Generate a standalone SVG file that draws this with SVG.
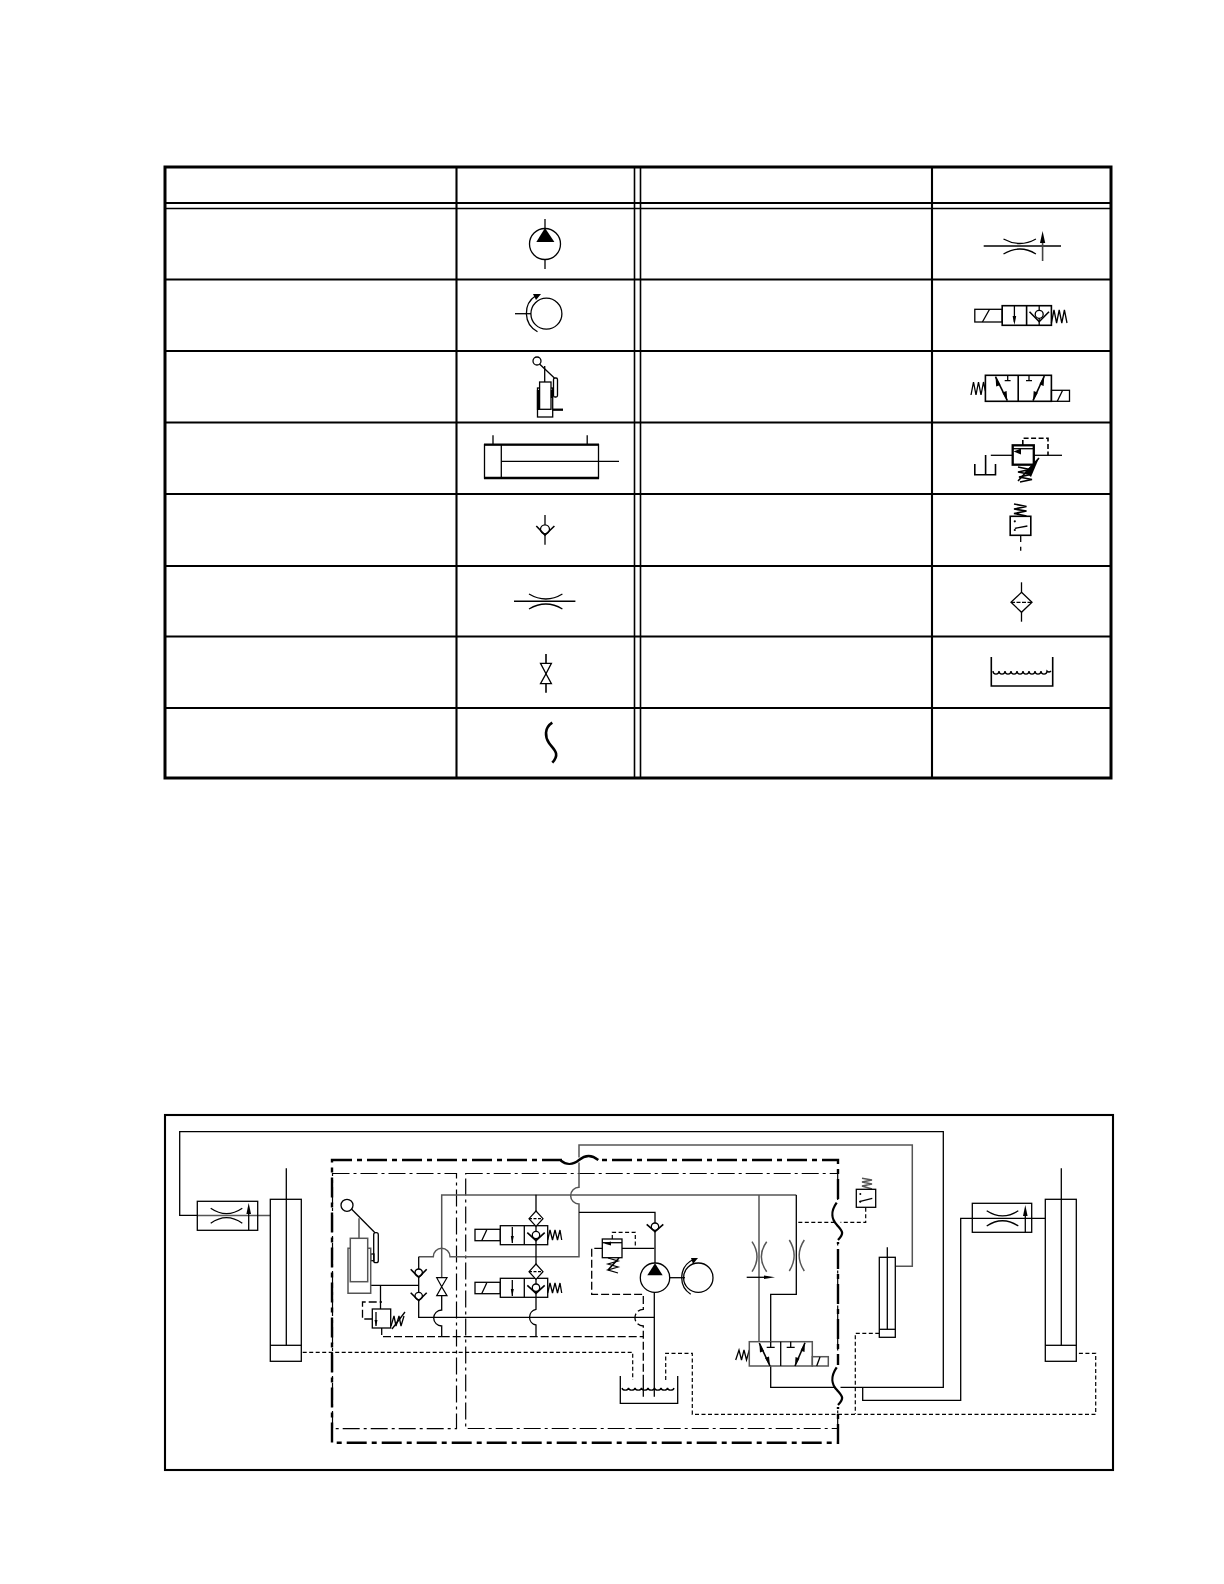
<svg xmlns="http://www.w3.org/2000/svg" width="1224" height="1584" viewBox="0 0 1224 1584">
<style>
path,line,rect,circle,ellipse,polyline{fill:none;stroke:#000;stroke-width:1.3}
.w{fill:#fff}
.g{stroke:#555;stroke-width:1.5}
.b{stroke-width:2.3}
.t{stroke-width:3}
.m{stroke-width:1.6}
.r{stroke-width:2.1}
.f,polygon{fill:#000;stroke:none}
.bigdd{stroke-width:2.4;stroke-dasharray:20 5 5 5}
.dd{stroke-dasharray:17 4 3 4;stroke-width:1.2}
.sd{stroke-dasharray:4 2.5;stroke-width:1.2}
.ld{stroke-dasharray:8 3}
.wh{stroke:#fff;stroke-width:5}
</style>
<rect x="0" y="0" width="1224" height="1584" style="fill:#fff;stroke:none"/>

<g id="table">
<rect class="t" x="165" y="167" width="946" height="611"/>
<line class="r" x1="456.5" y1="167" x2="456.5" y2="778"/>
<line class="m" x1="634.5" y1="167" x2="634.5" y2="778"/>
<line class="m" x1="640.5" y1="167" x2="640.5" y2="778"/>
<line class="r" x1="932" y1="167" x2="932" y2="778"/>
<line class="r" x1="165" y1="203" x2="1111" y2="203"/>
<line x1="165" y1="208.5" x2="1111" y2="208.5"/>
<line class="r" x1="165" y1="279.5" x2="1111" y2="279.5"/>
<line class="r" x1="165" y1="351" x2="1111" y2="351"/>
<line class="r" x1="165" y1="422.5" x2="1111" y2="422.5"/>
<line class="r" x1="165" y1="494" x2="1111" y2="494"/>
<line class="r" x1="165" y1="566" x2="1111" y2="566"/>
<line class="r" x1="165" y1="636.5" x2="1111" y2="636.5"/>
<line class="r" x1="165" y1="708" x2="1111" y2="708"/>
</g>

<g id="sym-pump">
<line x1="545" y1="219" x2="545" y2="269"/>
<circle class="w" cx="545" cy="244" r="15.5"/>
<polygon points="545,228 536.3,242 554.4,242"/>
</g>
<g id="sym-motor">
<circle cx="546.4" cy="313.7" r="15.5"/>
<line x1="515" y1="313.7" x2="531" y2="313.7"/>
<path d="M537.5 331.7A21 21 0 0 1 536 295.5"/>
<polygon points="533,294 541,294 536,300"/>
</g>
<g id="sym-lever">
<circle cx="537" cy="361" r="4"/>
<path d="M539.5 364L554.4 378"/>
<rect x="553.5" y="378" width="4" height="19" rx="1.5"/>
<line x1="544.7" y1="366" x2="544.7" y2="382"/>
<rect x="537.5" y="388" width="15.2" height="29"/>
<rect class="w" x="539.6" y="382" width="11.4" height="27.3"/>
<line class="b" x1="552.7" y1="409.7" x2="563" y2="409.7"/>
<line class="b" x1="552" y1="390" x2="552" y2="398"/>
<line class="b" x1="538" y1="390" x2="538" y2="410"/>
</g>
<g id="sym-cylinder">
<rect x="484.5" y="444.7" width="114" height="33.3"/>
<line class="b" x1="484" y1="444.7" x2="599" y2="444.7"/>
<line class="b" x1="484" y1="478" x2="599" y2="478"/>
<line x1="501.3" y1="444.7" x2="501.3" y2="478"/>
<line x1="501.3" y1="461.3" x2="619" y2="461.3"/>
<line x1="493" y1="435.3" x2="493" y2="444.7"/>
<line x1="587.2" y1="435.3" x2="587.2" y2="444.7"/>
</g>
<g id="sym-check">
<line x1="545" y1="515" x2="545" y2="544.7"/>
<circle class="w" cx="545" cy="529.3" r="4.5"/>
<path class="m" d="M536.3 526L545 535L554.4 526"/>
</g>
<g id="sym-throttle">
<line class="m" x1="514" y1="601.3" x2="575.4" y2="601.3"/>
<path d="M529 594Q546 604 562.4 594M529 609Q546 599 562.4 609"/>
</g>
<g id="sym-needle">
<line class="m" x1="546" y1="654" x2="546" y2="692.7"/>
<polygon class="w" style="fill:#fff;stroke:#000;stroke-width:1.3" points="540.5,663.3 551.4,663.3 546,673.7 551.4,683.7 540.5,683.7 546,673.7"/>
</g>
<g id="sym-hose">
<path style="stroke-width:2.6" d="M552.3 722.7C544 728 545 737 549 743C553 749 561 753 552.3 762.7"/>
</g>
<g id="sym-throttle-adj">
<line class="m" x1="983.7" y1="246" x2="1061" y2="246"/>
<path d="M1003.5 239Q1020 248 1035.9 239M1003.5 254Q1020 244 1035.9 254"/>
<line class="m" x1="1042.6" y1="240" x2="1042.6" y2="261" style="stroke:#444"/>
<polygon points="1042.6,231 1040,243 1045.2,243"/>
</g>
<g id="sym-valve22">
<rect x="974.8" y="309.3" width="27.4" height="12.7"/>
<line x1="982.4" y1="322" x2="989.6" y2="309.3"/>
<rect class="m" x="1002.2" y="305.7" width="49.2" height="19.6"/>
<line class="m" x1="1026.6" y1="305.7" x2="1026.6" y2="325.3"/>
<line x1="1014.4" y1="306" x2="1014.4" y2="322"/>
<polygon points="1014.4,325 1012.6,316 1016.2,316"/>
<line x1="1039.2" y1="306" x2="1039.2" y2="325"/>
<circle class="w" cx="1039.2" cy="314.3" r="4"/>
<path class="m" d="M1029.5 311.7L1039.2 321.7L1049 311.7"/>
<path d="M1051.4 323L1054 310L1056.6 323L1059.2 310L1061.8 323L1064.4 310L1067 323"/>
</g>
<g id="sym-valve42">
<path d="M971 395L973.5 382L976 395L978.5 382L981 395L983.5 382L985.4 391"/>
<rect class="m" x="985.4" y="375.3" width="66" height="26"/>
<line class="m" x1="1018.2" y1="375.3" x2="1018.2" y2="401.3"/>
<rect x="1051.4" y="390.3" width="18.1" height="11"/>
<line x1="1057.3" y1="401.3" x2="1062.4" y2="390.7"/>
<line class="m" x1="995.5" y1="376.7" x2="1007.3" y2="400.7"/>
<polygon points="995.5,376.7 1000.5,385 996.2,386.5"/>
<polygon points="1007.3,400.7 1002.3,392.5 1006.6,391"/>
<line class="m" x1="1044.3" y1="376" x2="1033" y2="400.7"/>
<polygon points="1044.3,376 1043.6,386 1039.4,384.3"/>
<polygon points="1033,400.7 1033.7,391 1037.9,392.7"/>
<path d="M1007.7 376V380.7M1004.7 380.7H1010.6M1029 376V380.7M1026 380.7H1032"/>
</g>
<g id="sym-relief">
<path class="m" d="M974.8 464V474.7H995.5V464M985.6 455V474.7"/>
<line x1="990.8" y1="455.3" x2="1012.7" y2="455.3"/>
<line x1="1033.8" y1="455.3" x2="1062" y2="455.3"/>
<rect class="b" x="1012.7" y="445.3" width="21.1" height="19.4"/>
<line x1="1012.7" y1="448.7" x2="1033.8" y2="448.7"/>
<polygon points="1013.5,451.5 1021,448.5 1021,454.5"/>
<path class="m" d="M1022.8 445V438.3H1048V455.3" style="stroke-dasharray:5 2.5"/>
<path class="m" d="M1018 467L1030 469.5L1018 472L1031 474.5L1019 477L1032 479.5L1020 482"/>
<path class="m" d="M1018 481L1039 458"/>
<polygon points="1039,458 1025,472 1031,477"/>
</g>
<g id="sym-switch">
<path class="m" d="M1014 504L1026.5 506.5L1014 509L1026.5 511L1014 513.5L1026.5 516"/>
<rect class="m" x="1010.2" y="516.3" width="20.6" height="19"/>
<circle class="f" cx="1014.8" cy="521.3" r="1.1"/>
<circle class="f" cx="1014.8" cy="530" r="1.1"/>
<line x1="1014.8" y1="528.3" x2="1027.4" y2="526"/>
<line x1="1020.7" y1="535" x2="1020.7" y2="542"/>
<line x1="1020.7" y1="546.7" x2="1020.7" y2="550.7"/>
</g>
<g id="sym-filter">
<line x1="1021.5" y1="582.3" x2="1021.5" y2="621.7"/>
<polygon class="w" style="fill:#fff;stroke:#000;stroke-width:1.3" points="1021.5,592.3 1032,602.3 1021.5,612.3 1011,602.3"/>
<line x1="1011" y1="602.3" x2="1032" y2="602.3" style="stroke-dasharray:4 1.5"/>
</g>
<g id="sym-tank">
<path class="m" d="M991.3 657V686H1052.7V657"/>
<path d="M993 671A2.9 3 0 0 0 999 671A2.9 3 0 0 0 1005 671A2.9 3 0 0 0 1011 671A2.9 3 0 0 0 1017 671A2.9 3 0 0 0 1023 671A2.9 3 0 0 0 1029 671A2.9 3 0 0 0 1035 671A2.9 3 0 0 0 1041 671A2.9 3 0 0 0 1047 671A2.9 3 0 0 0 1051 671"/>
</g>

<g id="frame">
<rect class="r" x="165" y="1115" width="948" height="355"/>
</g>

<g id="housings">
<rect class="bigdd" x="332" y="1160" width="506" height="282.7"/>
<rect class="dd" x="332.5" y="1173.5" width="124" height="255.2"/>
<rect class="dd" x="465.7" y="1173.5" width="372" height="255"/>
</g>

<g id="connectors">
<path d="M197 1215.4H179.7V1131.7H943.3V1387.3H770.7V1366"/>
<line class="g" x1="197" y1="1215.4" x2="270.3" y2="1215.4"/>
<path class="g" d="M418.7 1256.7H433.3A8.3 8.3 0 0 1 450 1256.7H579V1204A8.3 8.3 0 0 1 579 1187.3V1145H912.3V1266.3H895.7"/>
<path class="g" d="M441.7 1277V1195H796.3"/>
<path d="M796.3 1195V1294.3H770.7V1347"/>
<line class="g" x1="759" y1="1195" x2="759" y2="1341.7"/>
<path d="M370.7 1285.3H418.7M418.7 1256.7V1317.3H654.3"/>
<path d="M380.5 1285.3V1309"/>
<path class="g" d="M359 1218.3V1238.3"/>
<path d="M441.7 1296V1310A8 8 0 0 0 441.7 1326V1336.7"/>
<path class="ld" d="M381.7 1327V1336.7H441.7"/>
<path class="ld" d="M441.7 1336.7H643.3"/>
<path d="M536 1194.7V1309.3A8 8 0 0 0 536 1325V1336.7" />
<path d="M579 1212.3H655V1263"/>
<path d="M654.3 1292V1396.7"/>
<path d="M622 1248.3H654.3"/>
<path class="ld" d="M602.3 1248.3H591.7V1294.3H643.3V1309.3A8.3 8.3 0 0 0 643.3 1326V1376"/>
<line x1="643.3" y1="1376" x2="643.3" y2="1396.7"/>
<path class="sd" d="M612.3 1239V1232.3H635.3V1248.3"/>
<path class="sd" d="M302.7 1352.3H632.7V1380"/>
<path class="sd" d="M665.7 1380V1353.3H692.3V1414.3H1095.7V1353.3H1076.7"/>
<path class="sd" d="M879.3 1333.3H855.3V1414"/>
<path class="sd" d="M798.3 1222.3H865.7V1207.3"/>
<path d="M862.7 1387.3V1400.3H960.7V1218.3H1045"/>
<path d="M670 1277.7H685"/>
</g>

<g id="crossings">
<line class="wh" x1="838" y1="1200" x2="838" y2="1242"/>
<line class="wh" x1="838" y1="1365" x2="838" y2="1407"/>
<line class="wh" x1="562" y1="1160" x2="598" y2="1160"/>
<path class="b" d="M560.7 1160.5C566 1165 573 1165 579 1160C585 1155 591 1154 598.3 1160"/>
<path class="b" d="M836.7 1202.7C830 1212 832 1220 837 1225C842 1231 845 1233 838 1240"/>
<path class="b" d="M836.7 1367.3C830 1377 832 1385 837 1390C842 1396 845 1398 838 1405"/>
</g>

<g id="cylinder-left">
<rect class="w" x="270.3" y="1199.3" width="31" height="162"/>
<line x1="286.3" y1="1168.3" x2="286.3" y2="1345.3"/>
<line x1="270.3" y1="1345.3" x2="301.3" y2="1345.3"/>
</g>
<g id="throttle-left">
<rect x="197.3" y="1201.3" width="60.4" height="29"/>
<path d="M210.7 1208.3Q226.5 1219 242.3 1208.3M210.7 1223.3Q226.5 1212 242.3 1223.3"/>
<line x1="248.7" y1="1210" x2="248.7" y2="1230"/>
<polygon points="248.7,1203 246.4,1214 251,1214"/>
</g>
<g id="lever">
<circle cx="347" cy="1205.3" r="6"/>
<line x1="351.7" y1="1209.3" x2="375" y2="1232.7"/>
<rect x="373.7" y="1232.7" width="4.6" height="30" rx="2"/>
<rect x="370.7" y="1254" width="3.3" height="6.7"/>
<path class="g" d="M367.7 1248.3H370.7V1293.3H348V1248.3H350.3"/>
<rect class="g" x="350.3" y="1238.3" width="17.4" height="43.4"/>
</g>
<g id="checks-left">
<circle class="w" cx="418.7" cy="1272.7" r="3.7"/>
<path class="m" d="M410.7 1269.3L418.7 1277.3L426.7 1269.3"/>
<circle class="w" cx="418.7" cy="1296" r="3.7"/>
<path class="m" d="M410.7 1292.7L418.7 1300.7L426.7 1292.7"/>
</g>
<g id="needle-left">
<polygon style="fill:#fff;stroke:#000;stroke-width:1.2" points="436.7,1277.7 447,1277.7 441.7,1286.7 447,1295.7 436.7,1295.7 441.7,1286.7"/>
</g>
<g id="relief-left">
<path class="ld" d="M372.3 1319H362.5V1302H382"/>
<rect class="w" x="372.3" y="1309" width="18.4" height="19"/>
<line x1="376" y1="1312" x2="376" y2="1326"/>
<polygon points="376,1326 374.5,1320 377.5,1320"/>
<path d="M391 1326L394 1316L396 1326L399 1316L401 1326L404 1316"/>
<path d="M392 1329L405 1312"/>
</g>
<g id="valve-upper">
<rect x="475" y="1229.3" width="25.3" height="11.4"/>
<line x1="481.7" y1="1240.7" x2="486.7" y2="1230"/>
<rect class="w" x="500.3" y="1225.7" width="47.4" height="19"/>
<line x1="524.3" y1="1225.7" x2="524.3" y2="1244.7"/>
<line x1="512.3" y1="1227" x2="512.3" y2="1243"/>
<polygon points="512.3,1243.5 510.8,1236 513.8,1236"/>
<line x1="536" y1="1225.7" x2="536" y2="1244.7"/>
<circle class="w" cx="536" cy="1235" r="3.7"/>
<path class="m" d="M527.3 1232.7L536 1240.7L544.7 1232.7"/>
<path d="M547.7 1240L550 1230L552.5 1240L555 1230L557.5 1240L560 1230L561.7 1240"/>
<polygon style="fill:#fff;stroke:#000;stroke-width:1.2" points="536,1211 543,1218.7 536,1226.4 529,1218.7"/>
<line x1="529" y1="1218.7" x2="543" y2="1218.7" style="stroke-dasharray:3 1.5"/>
</g>
<g id="valve-lower">
<rect x="475" y="1282.3" width="25.3" height="11.4"/>
<line x1="481.7" y1="1293.7" x2="486.7" y2="1283"/>
<rect class="w" x="500.3" y="1278.3" width="47.4" height="19"/>
<line x1="524.3" y1="1278.3" x2="524.3" y2="1297.3"/>
<line x1="512.3" y1="1280" x2="512.3" y2="1296"/>
<polygon points="512.3,1296.5 510.8,1289 513.8,1289"/>
<line x1="536" y1="1278.3" x2="536" y2="1297.3"/>
<circle class="w" cx="536" cy="1287.7" r="3.7"/>
<path class="m" d="M527.3 1285.3L536 1293.3L544.7 1285.3"/>
<path d="M547.7 1293L550 1283L552.5 1293L555 1283L557.5 1293L560 1283L561.7 1293"/>
<polygon style="fill:#fff;stroke:#000;stroke-width:1.2" points="536,1264 543,1271.7 536,1279.4 529,1271.7"/>
<line x1="529" y1="1271.7" x2="543" y2="1271.7" style="stroke-dasharray:3 1.5"/>
</g>
<g id="relief-main">
<rect class="w" x="602.3" y="1239" width="19.7" height="18.7"/>
<line x1="602.3" y1="1242.7" x2="622" y2="1242.7"/>
<polygon points="604,1243.5 611,1241.5 611,1245.5"/>
<path d="M608 1258L618 1261L608 1264L618 1267L608 1270L618 1273"/>
<path class="m" d="M608 1270L619 1258"/>
</g>
<g id="pump-main">
<circle class="w" cx="655" cy="1226.7" r="3.7"/>
<path class="m" d="M646.7 1224.3L655 1231.7L663.3 1224.3"/>
<circle class="w" cx="655" cy="1277.7" r="14.7"/>
<polygon points="655,1263.3 647.3,1275.3 662.7,1275.3"/>
</g>
<g id="motor-main">
<circle cx="698.3" cy="1277.7" r="14.7"/>
<path d="M690.7 1294.3A20 20 0 0 1 693.3 1259.5"/>
<polygon points="691,1258 698,1258 693,1264"/>
</g>
<g id="tank-main">
<path d="M620.3 1376V1403.3H677.7V1376"/>
<path d="M622 1388A3.3 2.6 0 0 0 628.5 1388A3.3 2.6 0 0 0 635 1388A3.3 2.6 0 0 0 641.5 1388A3.3 2.6 0 0 0 648 1388A3.3 2.6 0 0 0 654.5 1388A3.3 2.6 0 0 0 661 1388A3.3 2.6 0 0 0 667.5 1388A3.3 2.6 0 0 0 674 1388"/>
</g>
<g id="throttles-mid">
<path class="g" d="M752 1241.7Q762 1256.7 752 1271.7M766.7 1241.7Q756 1256.7 766.7 1271.7"/>
<path class="g" d="M789.3 1240Q799 1255.5 789.3 1271M804.3 1240Q794 1255.5 804.3 1271"/>
<line x1="746.7" y1="1277.3" x2="768" y2="1277.3"/>
<polygon points="775,1277.3 764,1275.5 764,1279.1"/>
</g>
<g id="valve-main">
<path d="M735.7 1360L739 1350L741.5 1360L744 1350L746.5 1360L749.3 1350"/>
<rect class="w g" x="749.3" y="1341.7" width="63" height="24.3"/>
<line x1="780.7" y1="1341.7" x2="780.7" y2="1366"/>
<rect class="g" x="812.3" y="1356.7" width="16" height="9.3"/>
<line x1="816.7" y1="1366" x2="820" y2="1357"/>
<line class="m" x1="759.3" y1="1343" x2="770" y2="1366"/>
<polygon points="759.3,1343 764,1351 760,1352.5"/>
<polygon points="770,1366 765,1358 769,1356.5"/>
<path d="M770.7 1341.7V1347.3M766.7 1347.3H774.7M790.7 1341.7V1347.3M786.7 1347.3H794.7"/>
<line class="m" x1="805" y1="1342.7" x2="795" y2="1366"/>
<polygon points="805,1342.7 804.5,1352 800.5,1350.5"/>
<polygon points="795,1366 795.5,1357 799.5,1358.5"/>
</g>
<g id="switch-main">
<path class="g" d="M862 1178.3L872 1180L862 1182L872 1184L862 1186L872 1189"/>
<rect x="856.3" y="1189.3" width="19.4" height="18"/>
<circle class="f" cx="860.3" cy="1194" r="1"/>
<circle class="f" cx="860.3" cy="1201.7" r="1"/>
<line x1="859.3" y1="1201.7" x2="872.3" y2="1198.3"/>
</g>
<g id="cylinder-small">
<rect class="w" x="879.3" y="1257.3" width="16" height="80"/>
<line x1="887.3" y1="1247.3" x2="887.3" y2="1329.3"/>
<line x1="879.3" y1="1329.3" x2="895.3" y2="1329.3"/>
</g>
<g id="throttle-right">
<rect x="972.3" y="1203.3" width="59.4" height="29"/>
<path d="M986.7 1210.7Q1002.5 1221 1018.3 1210.7M986.7 1226Q1002.5 1215.5 1018.3 1226"/>
<line x1="1025.3" y1="1213" x2="1025.3" y2="1232.3"/>
<polygon points="1025.3,1205 1023,1216 1027.6,1216"/>
</g>
<g id="cylinder-right">
<rect class="w" x="1045.3" y="1199.3" width="31" height="162"/>
<line x1="1061.3" y1="1168.3" x2="1061.3" y2="1345.3"/>
<line x1="1045.3" y1="1345.3" x2="1076.3" y2="1345.3"/>
</g>
</svg>
